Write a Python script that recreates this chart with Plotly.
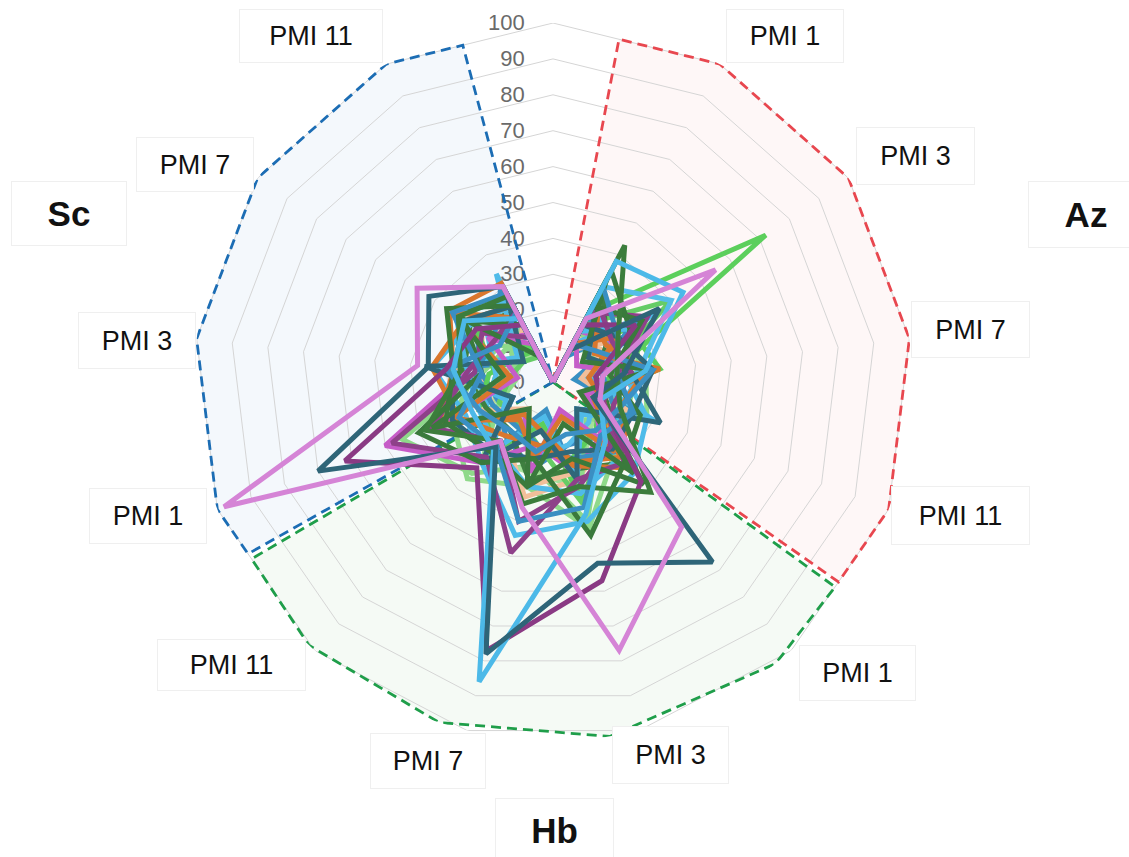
import math
import plotly.graph_objects as go

# ---------------- data ----------------
# 13 angular positions: a blank gap at the top, then Az, Hb, Sc (PMI 1, 3, 7, 11 each)
CATEGORIES = ["", "Az PMI 1", "Az PMI 3", "Az PMI 7", "Az PMI 11",
              "Hb PMI 1", "Hb PMI 3", "Hb PMI 7", "Hb PMI 11",
              "Sc PMI 1", "Sc PMI 3", "Sc PMI 7", "Sc PMI 11"]
RADIAL_TICKS = [0, 10, 20, 30, 40, 50, 60, 70, 80, 90, 100]

s01 = [0, 14, 28, 24, 22, 20, 40, 24, 34, 45, 20, 16, 12]
s02 = [0, 10, 16, 18, 20, 16, 30, 26, 28, 18, 14, 12, 8]
s03 = [0, 14, 16, 12, 18, 22, 28, 33, 20, 18, 20, 24, 16]
s04 = [0, 28, 12, 20, 15, 20, 18, 25, 20, 16, 20, 26, 18]
s05 = [0, 22, 72, 16, 14, 18, 22, 20, 15, 22, 18, 12, 10]
s06 = [0, 18, 40, 14, 18, 20, 35, 18, 14, 16, 12, 10, 8]
s07 = [0, 30, 40, 24, 12, 15, 18, 22, 14, 20, 16, 22, 14]
s08 = [0, 30, 18, 12, 16, 30, 25, 28, 18, 20, 25, 28, 22]
s09 = [0, 16, 20, 14, 12, 20, 26, 18, 30, 50, 24, 20, 15]
s10 = [0, 20, 25, 14, 18, 26, 22, 18, 16, 18, 22, 20, 31]
s11 = [0, 25, 18, 25, 20, 28, 32, 30, 24, 22, 24, 33, 26]
s12 = [0, 12, 22, 10, 15, 28, 23, 14, 12, 34, 28, 35, 31]
s13 = [0, 18, 22, 28, 24, 25, 20, 22, 26, 30, 28, 30, 24]
s14 = [0, 22, 32, 18, 15, 30, 28, 49, 28, 48, 22, 24, 14]
s15 = [0, 35, 26, 20, 14, 38, 22, 30, 26, 32, 28, 36, 24]
s16 = [0, 12, 15, 28, 20, 18, 15, 20, 18, 22, 30, 18, 22]
s17 = [0, 18, 28, 12, 14, 37, 57, 77, 32, 62, 30, 26, 18]
s18 = [0, 43, 22, 18, 20, 41, 30, 35, 22, 38, 26, 32, 27]
s19 = [0, 38, 44, 26, 14, 22, 38, 86, 25, 24, 28, 30, 20]
s20 = [0, 10, 36, 20, 12, 67, 52, 78, 24, 70, 35, 42, 30]
s21 = [0, 20, 55, 14, 14, 54, 77, 36, 22, 98, 38, 46, 30]
s22 = [0, 8, 30, 6, 25, 10, 30, 8, 28, 12, 30, 10, 26]
s23 = [0, 32, 10, 28, 8, 34, 12, 30, 10, 36, 14, 32, 8]
s24 = [0, 12, 34, 10, 30, 12, 28, 10, 26, 14, 32, 12, 34]
s25 = [0, 28, 14, 30, 12, 26, 10, 22, 14, 30, 12, 34, 20]
s26 = [0, 20, 12, 26, 28, 14, 32, 12, 30, 16, 10, 14, 18]
s27 = [0, 10, 20, 8, 22, 12, 26, 30, 10, 22, 30, 12, 18]
s28 = [0, 14, 8, 22, 10, 24, 8, 26, 12, 34, 10, 22, 12]
s29 = [0, 26, 12, 22, 32, 10, 28, 14, 30, 12, 36, 10, 28]
s30 = [0, 12, 26, 30, 12, 22, 34, 12, 26, 20, 16, 26, 10]
s31 = [0, 24, 30, 16, 26, 30, 44, 22, 30, 40, 20, 30, 18]
s32 = [0, 16, 26, 20, 28, 34, 40, 44, 30, 26, 34, 28, 24]
s33 = [0, 10, 22, 14, 20, 26, 42, 30, 36, 30, 22, 18, 10]
s34 = [0, 26, 20, 22, 18, 24, 30, 40, 22, 36, 24, 20, 22]
s35 = [0, 22, 18, 26, 20, 32, 24, 18, 20, 28, 34, 30, 24]
s36 = [0, 30, 22, 18, 24, 20, 36, 40, 24, 28, 20, 34, 28]

SERIES = [s01, s02, s33, s03, s04, s22, s26, s30, s05, s06, s07, s27, s08,
          s09, s24, s10, s32, s11, s28, s12, s35, s25, s13, s29, s34, s14,
          s31, s15, s23, s36, s16, s17, s18, s19, s20, s21]
COLORS = ["#8fd98a", "#a5e09a", "#8fd98a", "#f2bf9a", "#3b8ec4", "#3a8fc2",
          "#8fd98a", "#5ccf5c", "#5ccf5c", "#66cc66", "#55bde9", "#f2bf9a",
          "#3f7f40", "#c65cc8", "#4fbbe9", "#3a8fc2", "#4fbbe9", "#4fbbe9",
          "#c65cc8", "#d9772e", "#d9772e", "#d9772e", "#2f6779", "#2f6779",
          "#8e4189", "#8e4189", "#3a7a3c", "#3a7a3c", "#3a7a3c", "#3a8fc2",
          "#3c90c4", "#8a3a84", "#3c7d3c", "#4cb9e8", "#2e6578", "#d584d6"]

# ---------------- geometry helpers ----------------
N = len(CATEGORIES)
STEP = 360.0 / N
THETA = [i * STEP for i in range(N)]
RMAX = 100.0


def ring_r(theta):
    """radius of the outer polygon (value 100) at a given angle"""
    mid = (math.floor(theta / STEP) + 0.5) * STEP
    return RMAX * math.cos(math.pi / N) / math.cos(math.radians(theta - mid))


# sector outlines (group background)
SECTORS = [
    dict(name="Az", start=10.9, end=125.0, verts=THETA[1:5],
         line="#e8474f", fill="rgba(232,80,70,0.045)"),
    dict(name="Hb", start=126.0, end=239.6, verts=[141.7, 170.9, 198.5, 222.8],
         line="#1f9e4a", fill="rgba(60,160,60,0.05)"),
    dict(name="Sc", start=240.6, end=345.0, verts=THETA[9:13],
         line="#1c6db4", fill="rgba(30,120,200,0.05)"),
]


def sector_path(s):
    th = [s["start"], s["start"]] + list(s["verts"]) + [s["end"], s["end"]]
    rr = [0, ring_r(s["start"])] + [RMAX] * len(s["verts"]) + [ring_r(s["end"]), 0]
    return rr, th


fig = go.Figure()

# sector fills
for s in SECTORS:
    rr, th = sector_path(s)
    fig.add_trace(go.Scatterpolar(
        r=rr, theta=th, mode="lines", fill="toself", fillcolor=s["fill"],
        line=dict(width=0), hoverinfo="skip", showlegend=False))

# polygon grid
for lvl in RADIAL_TICKS[1:]:
    fig.add_trace(go.Scatterpolar(
        r=[lvl] * (N + 1), theta=THETA + [THETA[0]], mode="lines",
        line=dict(color="#d5d5d5", width=1), hoverinfo="skip", showlegend=False))

# dashed sector outlines
for s in SECTORS:
    rr, th = sector_path(s)
    fig.add_trace(go.Scatterpolar(
        r=rr, theta=th, mode="lines",
        line=dict(color=s["line"], width=2.8, dash="10px,6px"),
        hoverinfo="skip", showlegend=False))

# data series
for vals, col in zip(SERIES, COLORS):
    fig.add_trace(go.Scatterpolar(
        r=vals + [vals[0]], theta=THETA + [THETA[0]], mode="lines",
        line=dict(color=col, width=5), hoverinfo="skip", showlegend=False))

# ---------------- labels ----------------
LABEL_FONT = "Liberation Sans, Arial, sans-serif"
LABELS = [  # text, center x px, center y px, box w, box h, bold
    ("PMI 1", 785, 36, 114, 50, False), ("PMI 3", 915, 156, 115, 54, False),
    ("PMI 7", 970, 330, 115, 53, False), ("PMI 11", 960, 515, 135, 55, False),
    ("Az", 1086, 215, 112, 63, True),
    ("PMI 1", 857, 673, 113, 52, False), ("PMI 3", 670, 755, 113, 54, False),
    ("PMI 7", 428, 761, 112, 52, False), ("PMI 11", 232, 665, 145, 48, False),
    ("Hb", 554, 830, 115, 60, True),
    ("PMI 1", 148, 516, 114, 52, False), ("PMI 3", 137, 340, 114, 53, False),
    ("PMI 7", 195, 165, 114, 51, False), ("PMI 11", 311, 36, 140, 50, False),
    ("Sc", 69, 214, 112, 61, True),
]
W, H = 1129, 857
annotations = []
for txt, cx, cy, bw, bh, bold in LABELS:
    annotations.append(dict(
        text=f"<b>{txt}</b>" if bold else txt, x=cx / W, y=1 - cy / H,
        xref="paper", yref="paper", xanchor="center", yanchor="middle",
        showarrow=False, width=bw, height=bh, align="center", valign="middle",
        bgcolor="white", bordercolor="#efefef", borderwidth=1,
        font=dict(family=LABEL_FONT, size=35 if bold else 27, color="#111111")))

CX, CY, R = 553, 382, 359
fig.update_layout(
    width=W, height=H, margin=dict(l=0, r=0, t=0, b=0),
    paper_bgcolor="white", plot_bgcolor="white", showlegend=False,
    annotations=annotations,
    polar=dict(
        domain=dict(x=[(CX - R) / W, (CX + R) / W], y=[(H - CY - R) / H, (H - CY + R) / H]),
        bgcolor="rgba(0,0,0,0)",
        angularaxis=dict(rotation=90, direction="clockwise", showgrid=False,
                         showline=False, showticklabels=False, ticks=""),
        radialaxis=dict(range=[0, 100], showgrid=False, showline=False,
                        tickvals=RADIAL_TICKS, angle=90, tickangle=90,
                        side="counterclockwise", ticks="outside", ticklen=20,
                        tickcolor="rgba(0,0,0,0)", layer="below traces",
                        tickfont=dict(family=LABEL_FONT, size=22, color="#6a6a6a")),
    ),
)

fig.write_html("out.html")
